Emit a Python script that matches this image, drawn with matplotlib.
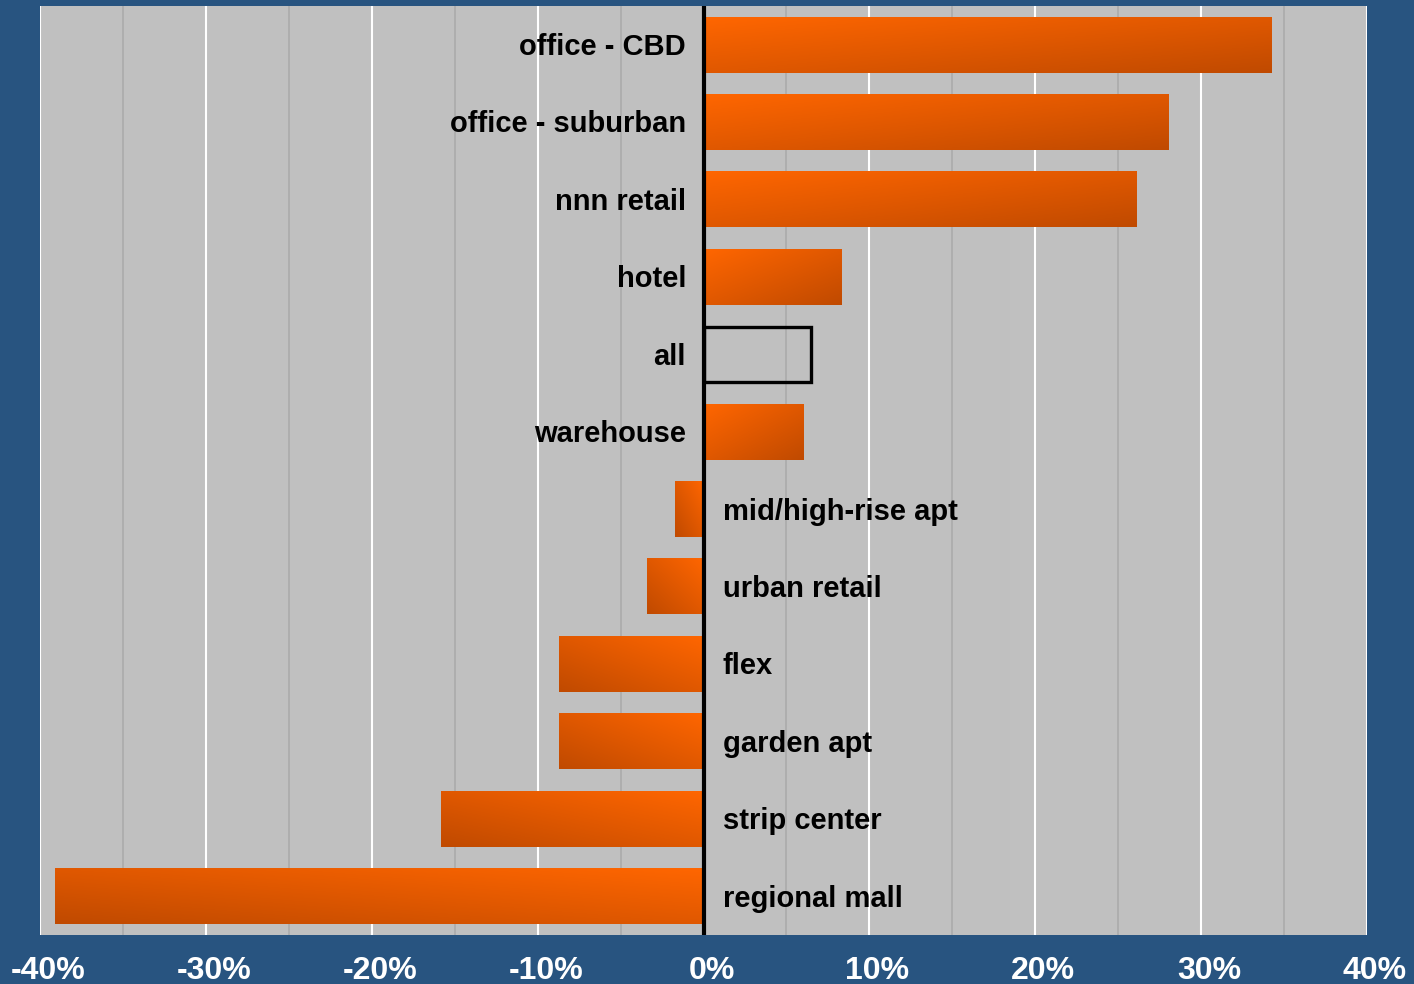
import matplotlib
matplotlib.use("Agg")
import matplotlib.pyplot as plt
from matplotlib.colors import LinearSegmentedColormap
from matplotlib.ticker import MultipleLocator, FuncFormatter
from matplotlib.transforms import ScaledTranslation
import numpy as np

plt.rcParams['font.family'] = ['Liberation Sans', 'DejaVu Sans']

# Variación por tipo de propiedad (%)
categorias = ['office - CBD', 'office - suburban', 'nnn retail', 'hotel', 'all',
              'warehouse', 'mid/high-rise apt', 'urban retail', 'flex',
              'garden apt', 'strip center', 'regional mall']
valores = [34.2, 28.0, 26.1, 8.3, 6.5, 6.0, -1.7, -3.4, -8.7, -8.7, -15.8, -39.1]
ticks_x = [-40, -30, -20, -10, 0, 10, 20, 30, 40]

FONDO = '#285480'
GRIS = '#C0C0C0'
ALTO_BARRA = 0.72

degradado = LinearSegmentedColormap.from_list('naranja', ['#FF6600', '#E05800', '#C04A00'])

fig = plt.figure(figsize=(14.14, 9.84), dpi=100)
fig.patch.set_facecolor(FONDO)
ax = fig.add_axes([40 / 1414, 49 / 984, 1327 / 1414, 929 / 984])
ax.set_facecolor(GRIS)

y = np.arange(len(categorias))

# Barras con degradado diagonal: claro junto al eje cero, oscuro en la esquina opuesta
for yi, val, cat in zip(y, valores, categorias):
    arriba, abajo = yi - ALTO_BARRA / 2, yi + ALTO_BARRA / 2
    if cat == 'all':
        ax.barh(yi, val, height=ALTO_BARRA, left=0, fill=False,
                edgecolor='black', linewidth=2.4, zorder=4)
    else:
        v = np.linspace(0, 1, 60)[:, None]
        u = np.linspace(0, 1, 240)[None, :]
        if val < 0:
            u = u[:, ::-1]
        t = (u + v) / 2
        izq, der = min(0, val), max(0, val)
        ax.imshow(t, cmap=degradado, vmin=0, vmax=1, aspect='auto',
                  extent=(izq, der, abajo, arriba), origin='upper',
                  interpolation='bilinear', zorder=3)

    if val >= 0:
        ax.text(-1.05, yi + 0.03, cat, ha='right', va='center', fontsize=21,
                fontweight='bold', color='black', zorder=6)
    else:
        ax.text(1.15, yi + 0.03, cat, ha='left', va='center', fontsize=21,
                fontweight='bold', color='black', zorder=6)

ax.axvline(0, color='black', linewidth=3, zorder=5)

ax.set_xlim(-40, 40)
ax.set_ylim(len(categorias) - 0.5, -0.5)
ax.set_yticks([])
ax.set_xticks(ticks_x)
ax.xaxis.set_minor_locator(MultipleLocator(5))
ax.xaxis.set_major_formatter(FuncFormatter(lambda x, _: f'{x:.0f}%'))
ax.grid(which='major', axis='x', color='white', linewidth=1.5, zorder=1)
ax.grid(which='minor', axis='x', color='#ABABAB', linewidth=1.2, zorder=1)
ax.set_axisbelow(True)
ax.tick_params(axis='x', which='both', length=0, pad=15, labelsize=23,
               labelcolor='white')
desplazamiento = ScaledTranslation(8 / 100, 0, fig.dpi_scale_trans)
for lbl in ax.get_xticklabels():
    lbl.set_fontweight('bold')
    lbl.set_transform(lbl.get_transform() + desplazamiento)
for s in ax.spines.values():
    s.set_visible(False)

fig.savefig('out.png', dpi=100, facecolor=FONDO)
